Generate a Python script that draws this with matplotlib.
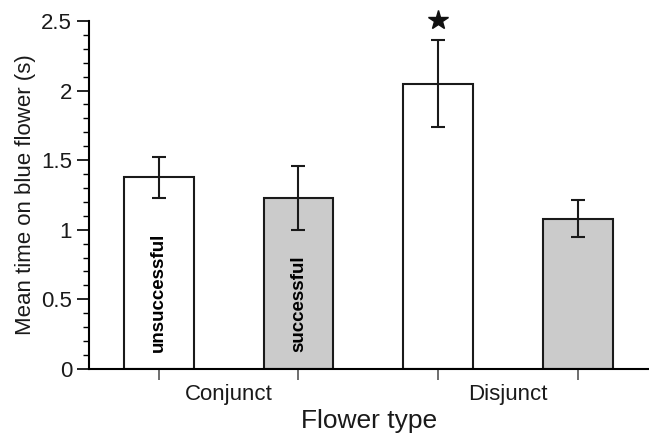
import matplotlib
matplotlib.use("Agg")
import matplotlib.pyplot as plt
from matplotlib.ticker import MultipleLocator, FixedLocator, NullFormatter

plt.rcParams['font.family'] = ['Liberation Sans', 'DejaVu Sans']

# data
flower_types = ["Conjunct", "Disjunct"]
outcomes = ["unsuccessful", "successful"]
means = [1.375, 1.225, 2.05, 1.08]
errors = [0.15, 0.23, 0.31, 0.135]
bar_colors = ["white", "#cbcbcb", "white", "#cbcbcb"]
star_bar = 2  # significant difference marked above this bar

fig = plt.figure(figsize=(6.49, 4.36), dpi=100)
ax = fig.add_axes([0.137, 0.154, 0.863, 0.798])

pos = list(range(len(means)))
ax.bar(pos, means, width=0.5, color=bar_colors, edgecolor="#1a1a1a", linewidth=1.5, zorder=2)
ax.errorbar(pos, means, yerr=errors, fmt="none", ecolor="#1a1a1a", elinewidth=1.5,
            capsize=5, capthick=1.5, zorder=3)

# labels written inside the first group's bars
for i, lab in enumerate(outcomes):
    ax.text(pos[i], 0.12, lab, rotation=90, ha="center", va="bottom",
            fontsize=13.5, fontweight="bold", zorder=4)

ax.plot(pos[star_bar], 2.51, marker="*", color="#111111", markersize=15, clip_on=False, zorder=5)

ax.set_xlim(-0.5, 3.51)
ax.set_ylim(0, 2.5)

ax.spines["top"].set_visible(False)
ax.spines["right"].set_visible(False)
ax.spines["left"].set_linewidth(1.5)
ax.spines["bottom"].set_linewidth(1.5)

ax.set_yticks([0, 0.5, 1, 1.5, 2, 2.5])
ax.set_yticklabels(["0", "0.5", "1", "1.5", "2", "2.5"])
ax.yaxis.set_minor_locator(MultipleLocator(0.1))
ax.tick_params(axis="y", which="major", length=9, width=1.2, labelsize=16, pad=3,
               labelcolor="#1a1a1a")
ax.tick_params(axis="y", which="minor", length=4, width=1.0)

# ticks under each bar, group names between them
ax.xaxis.set_major_locator(FixedLocator(pos))
ax.xaxis.set_major_formatter(NullFormatter())
ax.xaxis.set_minor_locator(FixedLocator([0.5, 2.5]))
ax.set_xticklabels(flower_types, minor=True)
ax.tick_params(axis="x", which="major", length=8, width=1.2, color="#555555")
ax.tick_params(axis="x", which="minor", length=0, labelsize=16, pad=11,
               labelcolor="#1a1a1a")

ax.set_ylabel("Mean time on blue flower (s)", fontsize=16, labelpad=4, color="#1a1a1a")
ax.set_xlabel("Flower type", fontsize=19, labelpad=3, color="#1a1a1a")

fig.savefig("out.png", dpi=100)
